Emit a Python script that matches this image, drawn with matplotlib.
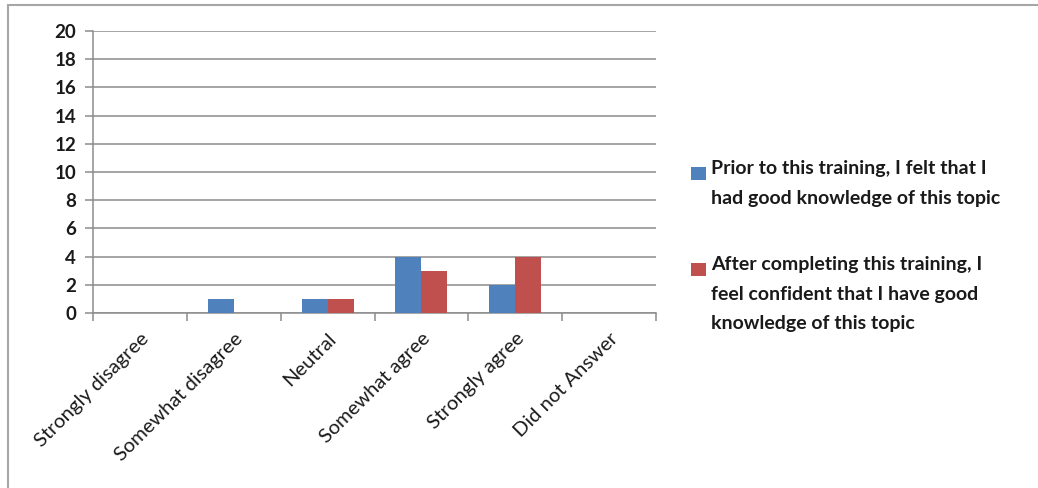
import matplotlib
matplotlib.use("Agg")
import matplotlib.pyplot as plt
import numpy as np
from matplotlib.patches import Rectangle

plt.rcParams["font.family"] = ["Lato", "DejaVu Sans"]

categories = ["Strongly disagree", "Somewhat disagree", "Neutral",
              "Somewhat agree", "Strongly agree", "Did not Answer"]
prior = [0, 1, 1, 4, 2, 0]
after = [0, 0, 1, 3, 4, 0]
series_labels = [
    "Prior to this training, I felt that I\nhad good knowledge of this topic",
    "After completing this training, I\nfeel confident that I have good\nknowledge of this topic",
]
yticks = list(range(0, 21, 2))

BLUE = "#4F81BD"
RED = "#C0504D"
GRID = "#8c8c8c"
TEXT = "#1a1a1a"

fig = plt.figure(figsize=(10.38, 4.88), dpi=100)
ax = fig.add_axes([0.0896, 0.3586, 0.5424, 0.578])

x = np.arange(len(categories))
w = 0.277
ax.bar(x - w / 2, prior, width=w, color=BLUE, zorder=3)
ax.bar(x + w / 2, after, width=w, color=RED, zorder=3)

ax.set_xlim(-0.5, len(categories) - 0.5)
ax.set_ylim(0, 20)
ax.set_yticks(yticks)
ax.set_yticklabels([str(v) for v in yticks], fontsize=13.5,
                   fontweight="bold", color=TEXT)
ax.yaxis.grid(True, color=GRID, linewidth=1.1, zorder=0)
ax.set_axisbelow(True)

# category boundary ticks on the x axis, labels at the centres
ax.set_xticks(np.arange(-0.5, len(categories)), minor=False)
ax.set_xticklabels([])
ax.set_xticks(x, minor=True)
ax.set_xticklabels(categories, minor=True, rotation=45, ha="right",
                   va="top", rotation_mode="anchor", fontsize=14.5,
                   color=TEXT)
ax.tick_params(axis="x", which="minor", length=0, pad=12)
ax.tick_params(axis="x", which="major", length=6, direction="out",
               color=GRID, width=1.1)
ax.tick_params(axis="y", length=6, direction="out", color=GRID,
               width=1.1, pad=6)

for side in ("top", "right"):
    ax.spines[side].set_visible(False)
for side in ("left", "bottom"):
    ax.spines[side].set_color(GRID)
    ax.spines[side].set_linewidth(1.1)

# legend drawn by hand so each swatch sits on the first text line
W, H = fig.get_size_inches() * fig.dpi
entries = [(BLUE, series_labels[0], 167), (RED, series_labels[1], 263)]
for color, label, top in entries:
    fig.patches.append(Rectangle((691 / W, 1 - (top + 13) / H), 15 / W,
                                 13 / H, transform=fig.transFigure,
                                 facecolor=color, edgecolor="none"))
    fig.text(711 / W, 1 - (top - 7) / H, label, fontsize=14,
             fontweight="bold", color=TEXT, va="top", ha="left",
             linespacing=1.9)

# outer chart frame (runs off the right and bottom edges)
fig.patches.append(Rectangle((8 / W, -0.1), 1.2, 1 - 5 / H + 0.1,
                             transform=fig.transFigure, facecolor="none",
                             edgecolor="#a6a6a6", linewidth=1.5))

fig.savefig("out.png", dpi=100)
